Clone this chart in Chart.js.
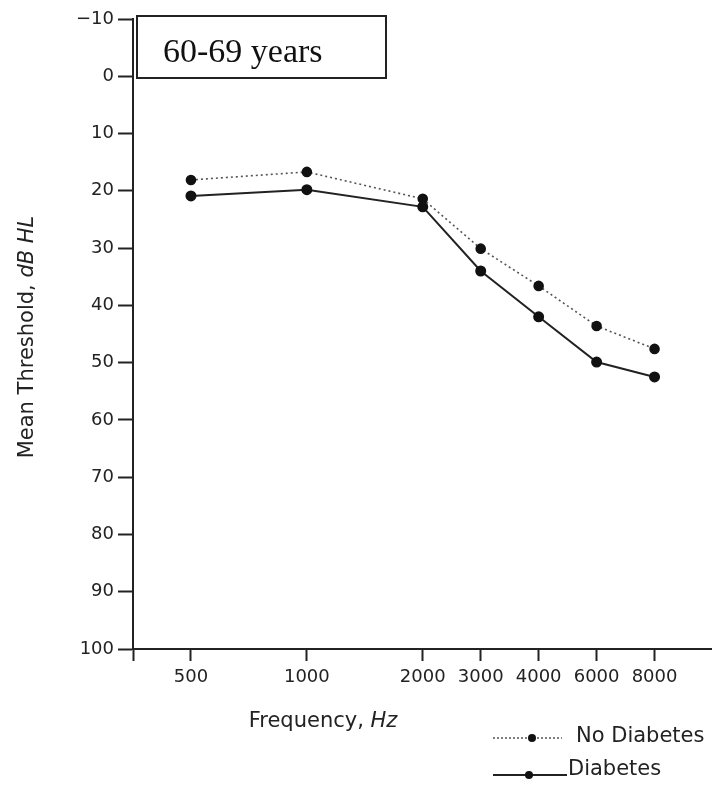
<!DOCTYPE html>
<html>
<head>
<meta charset="utf-8">
<script src="https://cdn.jsdelivr.net/npm/chart.js@4.4.1/dist/chart.umd.min.js"></script>
<style>
  html, body { margin: 0; padding: 0; background: #fff; overflow: hidden; }
  canvas { display: block; }
</style>
</head>
<body>
<!-- a little wider than the window: the axis keeps a few px spare on its right -->
<canvas id="audioChart" width="719" height="789"></canvas>
<script>
// Frequencies and where they sit on the printed axis (500-1000-2000 take double steps)
const frequencies = [500, 1000, 2000, 3000, 4000, 6000, 8000];
const xSlots = [0, 2, 4, 5, 6, 7, 8];
const noDiabetes = [18.1, 16.7, 21.4, 30.1, 36.6, 43.6, 47.6];
const diabetes = [20.9, 19.8, 22.8, 34.0, 42.0, 49.9, 52.5];
const yTicks = [-10, 0, 10, 20, 30, 40, 50, 60, 70, 80, 90, 100];

const toPoints = vals => vals.map((v, i) => ({ x: xSlots[i], y: v }));

// Title box, axis titles with italic units, and the legend in the bottom corner
const extras = {
    id: 'extras',
    afterDraw(chart) {
        const c = chart.ctx;
        c.save();

        // age box
        c.lineWidth = 2;
        c.strokeStyle = '#222';
        c.fillStyle = '#fff';
        c.fillRect(137, 16, 249, 62);
        c.strokeRect(137, 16, 249, 62);
        c.fillStyle = '#111';
        c.font = '34px "Liberation Serif"';
        c.textBaseline = 'alphabetic';
        c.textAlign = 'left';
        c.fillText('60-69 years', 163, 62);

        const drawMixed = (parts, x, y) => {
            let total = 0;
            parts.forEach(p => { c.font = p.font; total += c.measureText(p.text).width; });
            let cx = x - total / 2;
            parts.forEach(p => {
                c.font = p.font;
                c.fillText(p.text, cx, y);
                cx += c.measureText(p.text).width;
            });
        };
        c.fillStyle = '#222';

        // x title
        drawMixed([
            { text: 'Frequency, ', font: '21px "DejaVu Sans"' },
            { text: 'Hz', font: 'italic 21px "DejaVu Sans"' }
        ], 323, 727);

        // y title
        c.save();
        c.translate(33, 337);
        c.rotate(-Math.PI / 2);
        drawMixed([
            { text: 'Mean Threshold, ', font: '21px "DejaVu Sans"' },
            { text: 'dB HL', font: 'italic 21px "DejaVu Sans"' }
        ], 0, 0);
        c.restore();

        // legend
        const legendRow = (y, textX, dashed, label) => {
            c.beginPath();
            c.lineWidth = dashed ? 1.5 : 2;
            c.strokeStyle = dashed ? '#555' : '#222';
            c.setLineDash(dashed ? [2, 2] : []);
            c.moveTo(493, y);
            c.lineTo(dashed ? 562 : 567, y);
            c.stroke();
            c.setLineDash([]);
            c.beginPath();
            c.fillStyle = '#111';
            c.arc(dashed ? 532 : 529, y, 4, 0, Math.PI * 2);
            c.fill();
            c.fillStyle = '#222';
            c.font = '21px "DejaVu Sans"';
            c.textAlign = 'left';
            c.textBaseline = 'middle';
            c.fillText(label, textX, y - (dashed ? 1 : 5));
        };
        legendRow(738, 576, true, 'No Diabetes');
        legendRow(775, 568, false, 'Diabetes');
        c.restore();
    }
};

const ctx = document.getElementById('audioChart').getContext('2d');
const audioChart = new Chart(ctx, {
    type: 'line',
    data: {
        datasets: [{
            label: 'No Diabetes',
            data: toPoints(noDiabetes),
            borderColor: '#555',
            borderWidth: 1.6,
            borderDash: [2, 3],
            pointRadius: 4.5,
            pointBackgroundColor: '#111',
            pointBorderColor: '#111',
            tension: 0
        }, {
            label: 'Diabetes',
            data: toPoints(diabetes),
            borderColor: '#222',
            borderWidth: 2,
            pointRadius: 4.5,
            pointBackgroundColor: '#111',
            pointBorderColor: '#111',
            tension: 0
        }]
    },
    options: {
        responsive: false,
        animation: false,
        devicePixelRatio: 1,
        layout: { padding: { top: 19, left: 0, right: 0, bottom: 0 } },
        plugins: {
            legend: { display: false },
            tooltip: { enabled: false }
        },
        scales: {
            x: {
                type: 'linear',
                min: -1,
                max: 9,
                afterBuildTicks: axis => {
                    axis.ticks = [-1].concat(xSlots).map(v => ({ value: v }));
                },
                afterFit: axis => { axis.height = 140; },
                ticks: {
                    autoSkip: false,
                    maxRotation: 0,
                    padding: 6,
                    color: '#222',
                    font: { family: 'DejaVu Sans', size: 18 },
                    callback: v => {
                        const i = xSlots.indexOf(v);
                        return i < 0 ? '' : String(frequencies[i]);
                    }
                },
                grid: {
                    drawOnChartArea: false,
                    drawTicks: true,
                    tickLength: 12,
                    tickWidth: 2,
                    tickColor: '#222'
                },
                border: { display: true, color: '#222', width: 2 }
            },
            y: {
                type: 'linear',
                reverse: true,
                min: -10,
                max: 100,
                afterBuildTicks: axis => {
                    axis.ticks = yTicks.map(v => ({ value: v }));
                },
                afterFit: axis => { axis.width = 133; },
                ticks: {
                    padding: 4,
                    color: '#222',
                    font: { family: 'DejaVu Sans', size: 18 },
                    callback: v => (v < 0 ? '\u2212' + Math.abs(v) : String(v))
                },
                grid: {
                    drawOnChartArea: false,
                    drawTicks: true,
                    tickLength: 15,
                    tickWidth: 2,
                    tickColor: '#222'
                },
                border: { display: true, color: '#222', width: 2 }
            }
        }
    },
    plugins: [extras]
});
</script>
</body>
</html>
